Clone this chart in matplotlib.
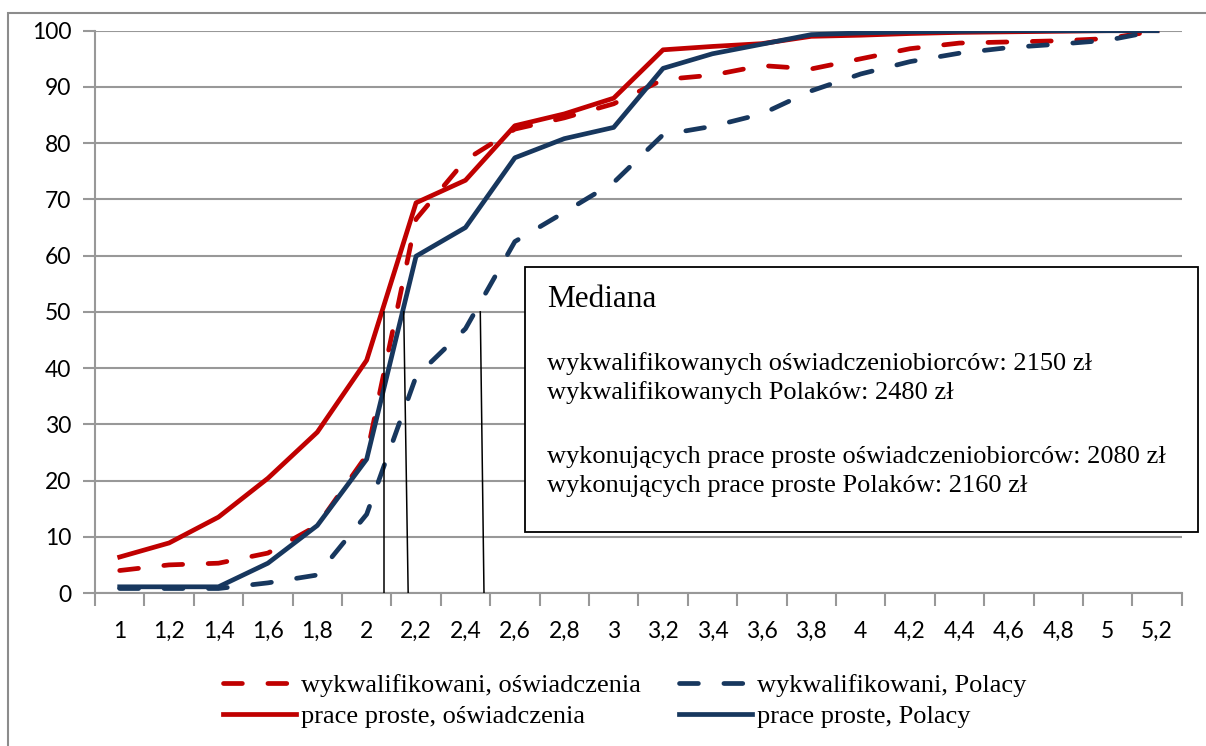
import numpy as np
import matplotlib
matplotlib.use('Agg')
import matplotlib.pyplot as plt
from matplotlib.patches import Rectangle

# wynagrodzenie w tys. zł (kategorie osi X)
categories = ['1', '1,2', '1,4', '1,6', '1,8', '2', '2,2', '2,4', '2,6', '2,8', '3',
              '3,2', '3,4', '3,6', '3,8', '4', '4,2', '4,4', '4,6', '4,8', '5', '5,2']

# skumulowany odsetek (%)
wykw_osw = [4.0, 5.0, 5.3, 7.1, 12.0, 24.5, 66.5, 77.0, 82.5, 84.5, 87.0,
            91.3, 92.1, 93.8, 93.2, 95.0, 96.8, 97.8, 98.0, 98.2, 98.6, 100]
wykw_pol = [0.8, 0.8, 0.8, 1.8, 3.2, 14.0, 38.5, 47.0, 62.5, 67.7, 73.0,
            81.5, 83.0, 85.2, 89.3, 92.3, 94.5, 96.0, 97.0, 97.6, 98.3, 100]
pp_osw = [6.4, 8.9, 13.5, 20.4, 28.6, 41.4, 69.4, 73.4, 83.1, 85.2, 88.0,
          96.6, 97.2, 97.7, 99.0, 99.2, 99.5, 99.7, 99.8, 99.9, 100, 100]
pp_pol = [1.1, 1.1, 1.1, 5.3, 12.0, 23.8, 59.9, 65.0, 77.4, 80.8, 82.8,
          93.3, 95.9, 97.6, 99.3, 99.6, 99.8, 99.9, 100, 100, 100, 100]

# mediany (zł) - linie rysowane odręcznie: dół / góra
median_bottom = [2070, 2168, 2475]
median_top = [2070, 2150, 2460]

red = '#C00000'
navy = '#17375E'
grid_col = '#989898'

fig = plt.figure(figsize=(12.06, 7.46), dpi=100)
ax = fig.add_axes([95 / 1206, 1 - 593 / 746, (1181.7 - 95) / 1206, (593 - 30.7) / 746])

x = np.arange(len(categories))
lw = 3.4
dash = (4.0, 5.4)
l1, = ax.plot(x, wykw_osw, color=red, lw=lw, ls=(0, dash), dash_capstyle='round',
              label='wykwalifikowani, oświadczenia', zorder=3)
l2, = ax.plot(x, wykw_pol, color=navy, lw=lw, ls=(0, dash), dash_capstyle='round',
              label='wykwalifikowani, Polacy', zorder=3)
l3, = ax.plot(x, pp_osw, color=red, lw=lw, solid_joinstyle='round',
              label='prace proste, oświadczenia', zorder=4)
l4, = ax.plot(x, pp_pol, color=navy, lw=lw, solid_joinstyle='round',
              label='prace proste, Polacy', zorder=5)


def to_idx(v):
    return (v / 1000 - 1) / 0.2


for b, t in zip(median_bottom, median_top):
    ax.plot([to_idx(b), to_idx(t)], [0, 50], color='black', lw=1.1, zorder=6)

ax.set_xlim(-0.5, len(categories) - 0.5)
ax.set_ylim(0, 100)
ax.set_yticks(np.arange(0, 101, 10))
ax.set_xticks(np.arange(-0.5, len(categories), 1))
ax.set_xticklabels([])
ax.set_xticks(x, minor=True)
ax.set_xticklabels(categories, minor=True)
ax.tick_params(axis='x', which='minor', length=0, pad=20)
ax.tick_params(axis='x', which='major', length=9, width=1.5, color=grid_col)
ax.tick_params(axis='y', length=9, width=1.5, color=grid_col, pad=8)
for lab in ax.get_xticklabels(minor=True) + ax.get_yticklabels():
    lab.set_fontfamily('Lato')
    lab.set_fontsize(16.5)
ax.grid(axis='y', color=grid_col, lw=1.5)
ax.set_axisbelow(True)
for s in ['top', 'right']:
    ax.spines[s].set_visible(False)
for s in ['left', 'bottom']:
    ax.spines[s].set_color(grid_col)
    ax.spines[s].set_linewidth(1.5)

# ramka wykresu
fig.patches.append(Rectangle((8 / 1206, -0.1), 2, 1.1 - 13 / 746, transform=fig.transFigure,
                             fill=False, edgecolor='#8c8c8c', lw=1.5))

# pole tekstowe z medianami
fig.patches.append(Rectangle((525 / 1206, 1 - 532 / 746), (1198 - 525) / 1206, (532 - 267) / 746,
                             transform=fig.transFigure, facecolor='white',
                             edgecolor='black', lw=1.3, zorder=10))
serif = 'Liberation Serif'
fig.text(547 / 1206, 1 - 307 / 746, 'Mediana', family=serif, fontsize=22.5, zorder=11)
lines = ['wykwalifikowanych oświadczeniobiorców: 2150 zł',
         'wykwalifikowanych Polaków: 2480 zł',
         'wykonujących prace proste oświadczeniobiorców: 2080 zł',
         'wykonujących prace proste Polaków: 2160 zł']
baselines = [370, 399, 463, 492]
for txt, yb in zip(lines, baselines):
    fig.text(547 / 1206, 1 - yb / 746, txt, family=serif, fontsize=19, zorder=11)

fig.legend([l1, l3, l2, l4], [h.get_label() for h in [l1, l3, l2, l4]], ncol=2,
           loc='center', bbox_to_anchor=(0.518, 1 - 701 / 746), frameon=False,
           prop={'family': serif, 'size': 19}, handlelength=2.75, handletextpad=0.2,
           columnspacing=1.45, labelspacing=0.3)

fig.savefig('out.png', dpi=100)
